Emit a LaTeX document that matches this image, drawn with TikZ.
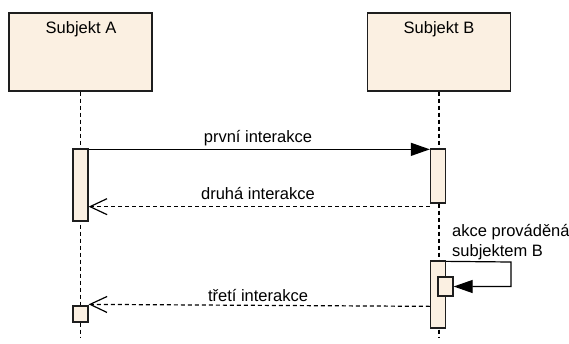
\documentclass[tikz,border=0pt]{standalone}
\usepackage{fontspec}
\setmainfont{Liberation Sans}
\usetikzlibrary{arrows.meta}

\definecolor{actfill}{RGB}{251,240,226}
\definecolor{lineclr}{RGB}{30,30,30}

\tikzset{
  subject/.style={draw=lineclr,fill=actfill,line width=1.3pt,minimum width=143pt,minimum height=78pt,inner sep=0pt},
  act/.style={draw=lineclr,fill=actfill,line width=1.3pt,minimum width=15pt,inner sep=0pt},
  lifeline/.style={draw=black,line width=1.2pt,dash pattern=on 4pt off 3pt},
  call/.style={line width=1.2pt,-{Triangle[length=19pt,width=13pt]}},
  reply/.style={line width=1.2pt,dash pattern=on 4pt off 3pt,-{Straight Barb[length=17pt,width=16pt,line width=1.2pt]}},
  lbl/.style={font=\fontsize{16.5}{20}\selectfont,inner sep=0pt}
}

\begin{document}
\begin{tikzpicture}[x=1pt,y=-1pt]
\useasboundingbox (0,0) rectangle (569,343);

% subjects
\node[subject] (subjA) at (80.5,52) {};
\node[subject] (subjB) at (439,52) {};
\node[lbl] at (81,29) {Subjekt A};
\node[lbl] at (439,29) {Subjekt B};

% lifelines
\coordinate (endA) at (80.5,338);
\coordinate (endB) at (439,338);
\draw[lifeline] (subjA.south) -- (endA);
\draw[lifeline] (subjB.south) -- (endB);

% activations
\node[act,minimum height=72pt] (actA1) at (80.5,185) {};
\node[act,minimum height=16pt] (actA2) at (80.5,314) {};
\node[act,minimum height=54pt] (actB1) at (438,176) {};
\node[act,minimum height=67pt] (actB2) at (438,294.5) {};
\node[act,minimum height=19pt] (actB3) at (445.5,286.5) {};

% messages
\draw[call] ([yshift=-1pt]actA1.north east) -- ([yshift=-1pt]actB1.north west);
\node[lbl] at (258,138) {první interakce};

\draw[reply] ([yshift=-3pt]actB1.south west) -- ([yshift=-3pt]actB1.south west -| actA1.east);
\node[lbl] at (258,194) {druhá interakce};

\coordinate (loopR) at (511,262);
\draw[call] ([yshift=-1pt]actB2.north east) -- (loopR) |- (actB3.east);
\node[lbl,align=left,anchor=west] at (452,242) {akce prováděná\\subjektem B};

\draw[reply] (actB2.west |- actA2.north) ++(0,1) -- ([yshift=1pt]actA2.north east);
\node[lbl] at (258,295) {třetí interakce};
\end{tikzpicture}
\end{document}
